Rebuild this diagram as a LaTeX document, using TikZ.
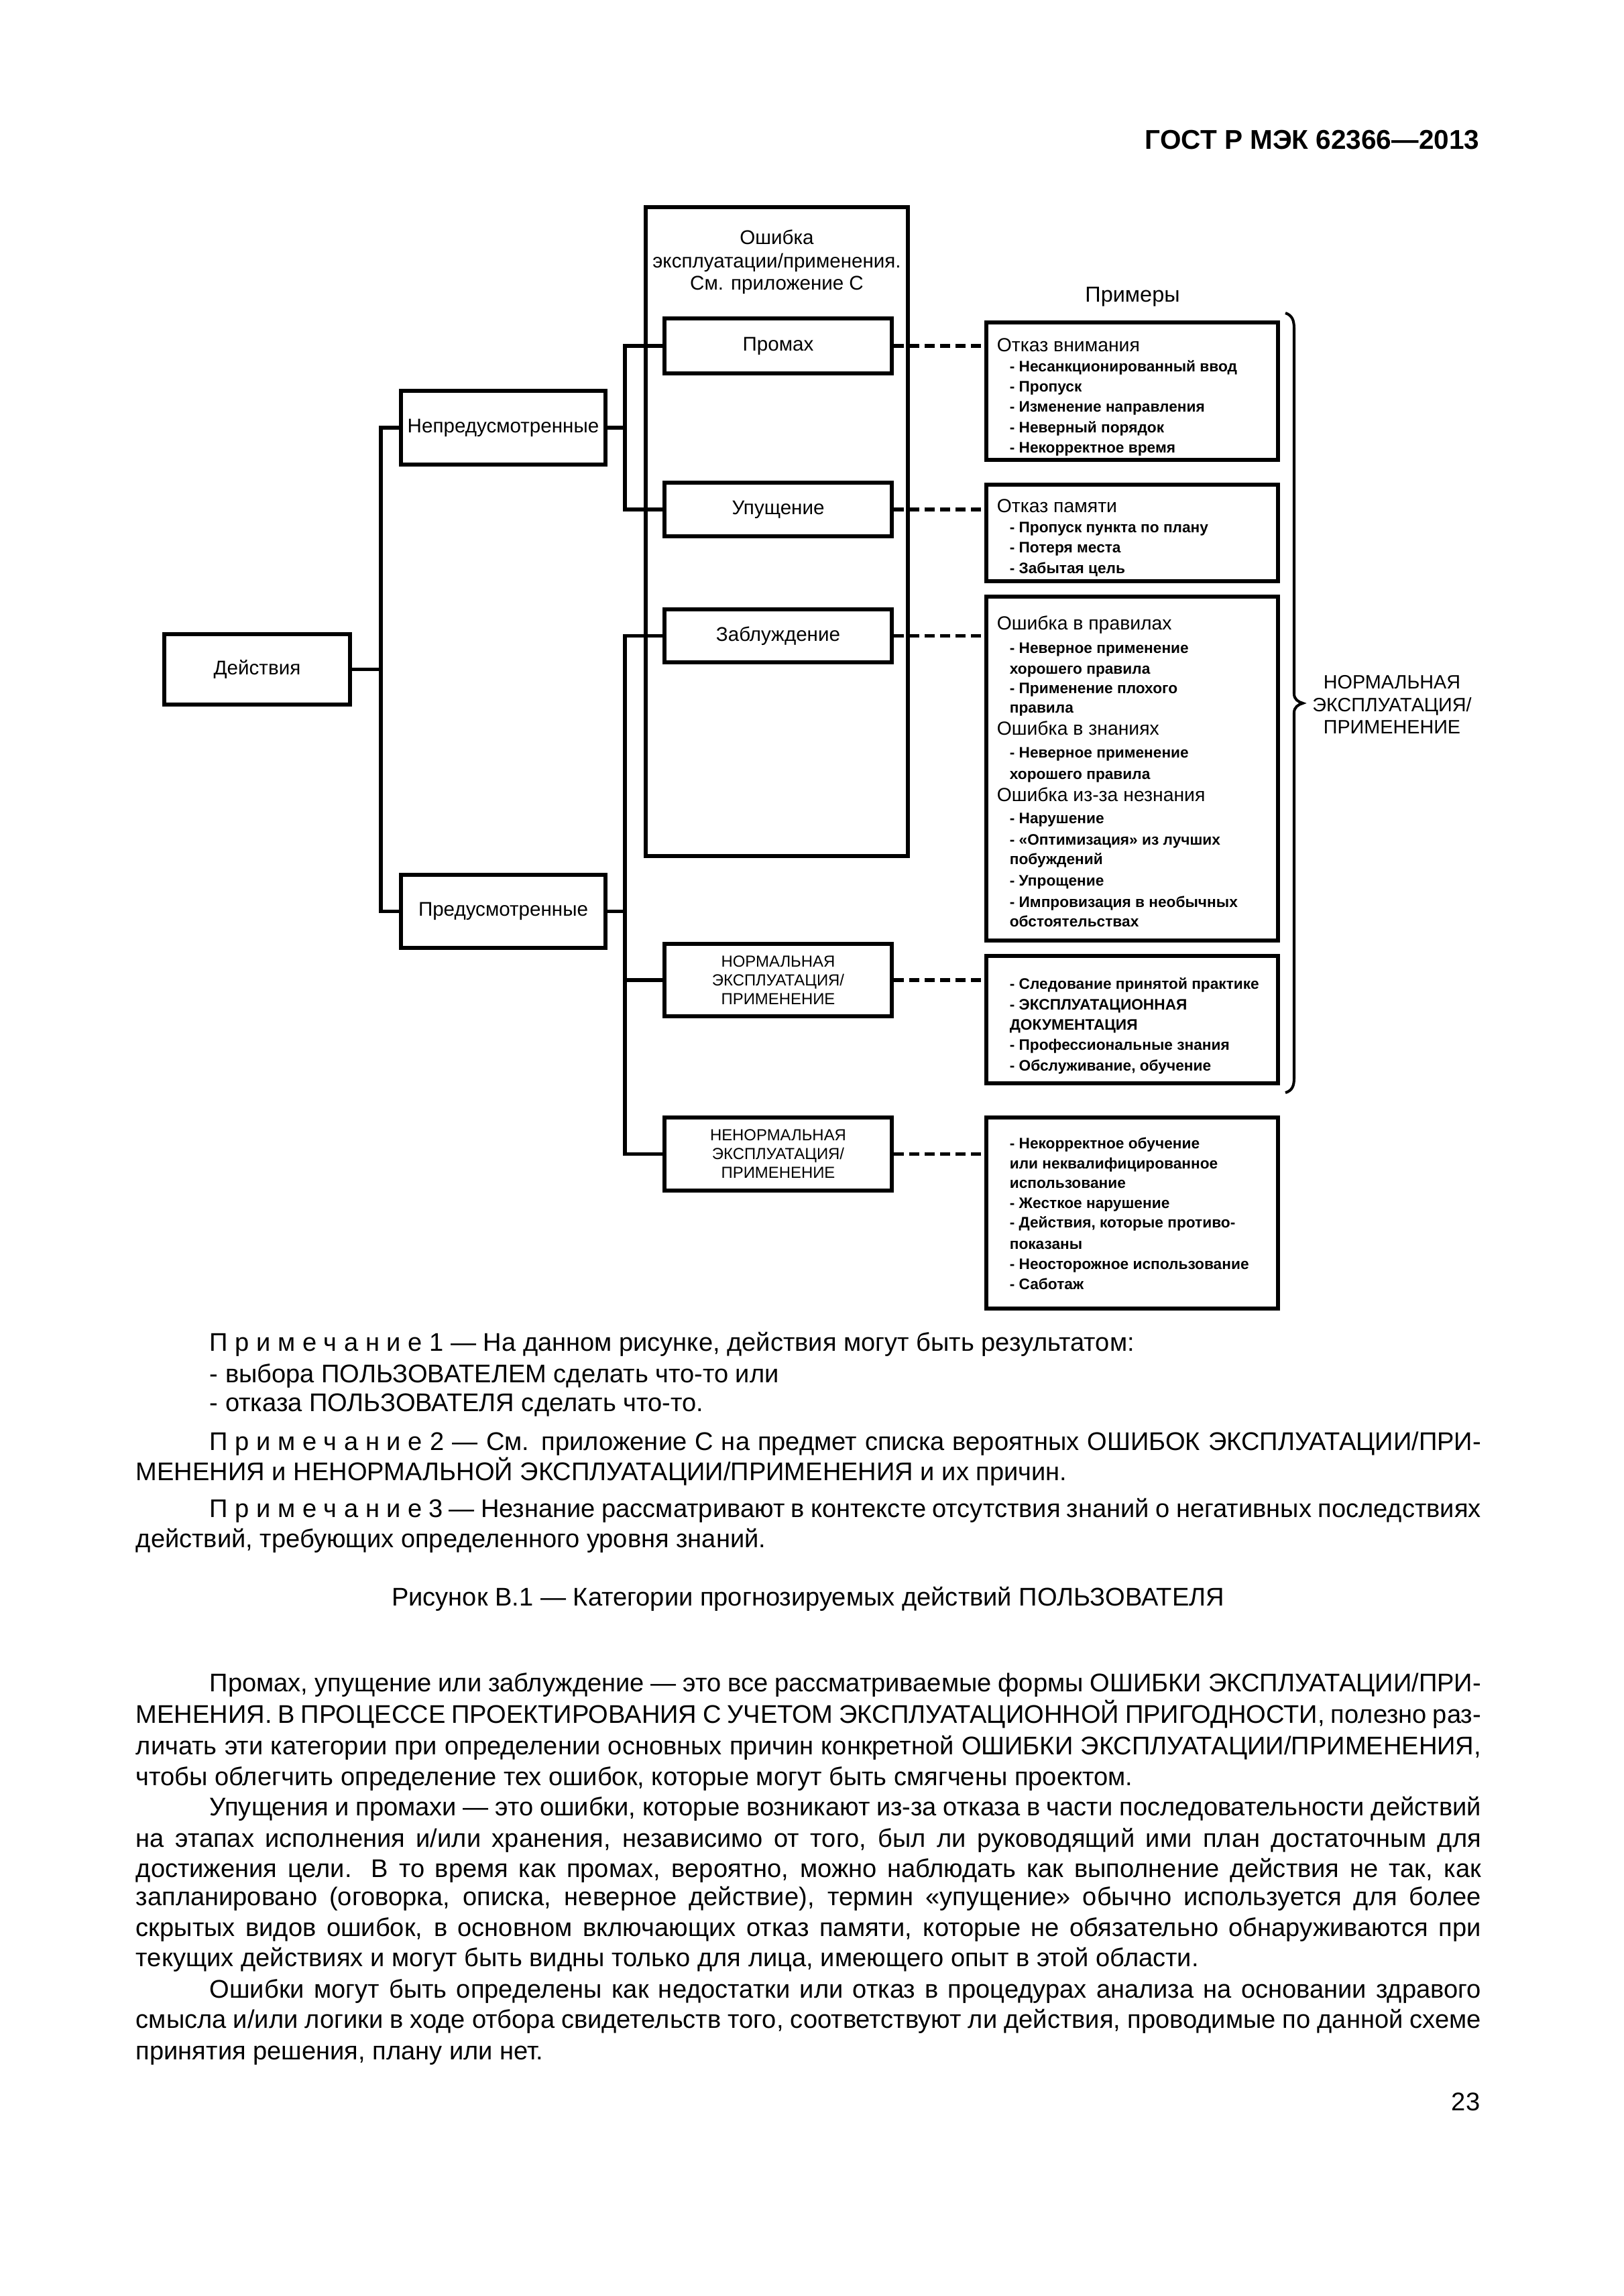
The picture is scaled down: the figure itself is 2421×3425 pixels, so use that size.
\documentclass[tikz,border=0pt]{standalone}
\usepackage{fontspec}
\setmainfont{Liberation Sans}
\newdimen\pxu \pxu=0.08674mm
\begin{document}
\begin{tikzpicture}[x=0.08674mm,y=-0.08674mm,
  box/.style={draw, line width=1.35pt, inner sep=0pt, align=center},
  lbl/.style={font=\fontsize{7.3}{8.4}\selectfont},
  capl/.style={font=\fontsize{5.9}{6.9}\selectfont},
  conn/.style={line width=1.35pt},
  dconn/.style={line width=1.35pt, dash pattern=on 3.7pt off 2pt},
  hd/.style={anchor=mid west, inner sep=0pt, font=\fontsize{7}{8}\selectfont},
  itm/.style={anchor=mid west, inner sep=0pt, font=\fontsize{5.6}{6.5}\selectfont\bfseries},
  ttl/.style={anchor=mid, inner sep=0pt, font=\fontsize{7.3}{8.4}\selectfont},
  body/.style={anchor=mid west, inner sep=0pt, font=\fontsize{9.4}{11}\selectfont},
  exbox/.style={draw, line width=1.35pt, inner sep=0pt, minimum width=435\pxu}
]
\useasboundingbox (0,0) rectangle (2421,3425);

% header
\node[anchor=base east, inner sep=0pt, font=\fontsize{10}{12}\selectfont\bfseries] (hdr) at (2207,222) {ГОСТ Р МЭК 62366—2013};

% left tree
\node[box, lbl, minimum width=277\pxu, minimum height=105\pxu] (deistv) at (383.5,998.5) {Действия};
\node[box, lbl, minimum width=305\pxu, minimum height=110\pxu] (nepred) at (750.5,638) {Непредусмотренные};
\node[box, lbl, minimum width=305\pxu, minimum height=109\pxu] (pred) at (750.5,1359.5) {Предусмотренные};

\node[box, minimum width=391\pxu, minimum height=968\pxu] (bigbox) at (1158.5,793) {};
\node[ttl] (t1) at (1158.5,354) {Ошибка};
\node[ttl] (t2) at (1158.5,389) {эксплуатации/применения.};
\node[ttl] (t3) at (1158.5,422) {См. приложение С};

\node[box, lbl, fill=white, minimum width=339\pxu, minimum height=82\pxu] (promakh) at (1160.5,516) {Промах};
\node[box, lbl, fill=white, minimum width=339\pxu, minimum height=80\pxu] (upush) at (1160.5,760) {Упущение};
\node[box, lbl, fill=white, minimum width=339\pxu, minimum height=79\pxu] (zabl) at (1160.5,948.5) {Заблуждение};
\node[box, capl, minimum width=339\pxu, minimum height=108\pxu] (norm) at (1160.5,1462) {НОРМАЛЬНАЯ\\ЭКСПЛУАТАЦИЯ/\\ПРИМЕНЕНИЕ};
\node[box, capl, minimum width=339\pxu, minimum height=109\pxu] (abnorm) at (1160.5,1721.5) {НЕНОРМАЛЬНАЯ\\ЭКСПЛУАТАЦИЯ/\\ПРИМЕНЕНИЕ};

\coordinate (vlx) at (568,0);
\coordinate (vmx) at (932,0);

\draw[conn] (deistv.east) -- (deistv.east -| vlx);
\draw[conn] (nepred.west) -- (nepred.west -| vlx) -- (pred.west -| vlx) -- (pred.west);
\draw[conn] (nepred.east) -- (nepred.east -| vmx);
\draw[conn] (promakh.west) -- (promakh.west -| vmx) -- (upush.west -| vmx) -- (upush.west);
\draw[conn] (pred.east) -- (pred.east -| vmx);
\draw[conn] (zabl.west) -- (zabl.west -| vmx) -- (abnorm.west -| vmx) -- (abnorm.west);
\draw[conn] (norm.west -| vmx) -- (norm.west);

% examples
\node[anchor=mid, inner sep=0pt, font=\fontsize{8}{9.5}\selectfont] (prim) at (1689,440) {Примеры};

\node[exbox, minimum height=205\pxu] (ex1) at (1688.5,583.5) {};
\node[exbox, minimum height=144\pxu] (ex2) at (1688.5,795) {};
\node[exbox, minimum height=513\pxu] (ex3) at (1688.5,1146.5) {};
\node[exbox, minimum height=190\pxu] (ex4) at (1688.5,1521) {};
\node[exbox, minimum height=285\pxu] (ex5) at (1688.5,1809.5) {};

\draw[dconn] (promakh.east) -- (promakh.east -| ex1.west);
\draw[dconn] (upush.east) -- (upush.east -| ex2.west);
\draw[dconn] (zabl.east) -- (zabl.east -| ex3.west);
\draw[dconn] (norm.east) -- (norm.east -| ex4.west);
\draw[dconn] (abnorm.east) -- (abnorm.east -| ex5.west);

% box 1
\node[hd] (a0) at (1486,514) {Отказ внимания};
\node[itm] (a1) at (1505,544) {- Несанкционированный ввод};
\node[itm] (a2) at (1505,574) {- Пропуск};
\node[itm] (a3) at (1505,604) {- Изменение направления};
\node[itm] (a4) at (1505,635) {- Неверный порядок};
\node[itm] (a5) at (1505,665) {- Некорректное время};
% box 2
\node[hd] (b0) at (1486,754) {Отказ памяти};
\node[itm] (b1) at (1505,784) {- Пропуск пункта по плану};
\node[itm] (b2) at (1505,814) {- Потеря места};
\node[itm] (b3) at (1505,845) {- Забытая цель};
% box 3
\node[hd] (c0) at (1486,929) {Ошибка в правилах};
\node[itm] (c1) at (1505,964) {- Неверное применение};
\node[itm] (c2) at (1505,995) {хорошего правила};
\node[itm] (c3) at (1505,1024) {- Применение плохого};
\node[itm] (c4) at (1505,1053) {правила};
\node[hd] (c5) at (1486,1086) {Ошибка в знаниях};
\node[itm] (c6) at (1505,1120) {- Неверное применение};
\node[itm] (c7) at (1505,1152) {хорошего правила};
\node[hd] (c8) at (1486,1185) {Ошибка из-за незнания};
\node[itm] (c9) at (1505,1218) {- Нарушение};
\node[itm] (c10) at (1505,1250) {- «Оптимизация» из лучших};
\node[itm] (c11) at (1505,1279) {побуждений};
\node[itm] (c12) at (1505,1311) {- Упрощение};
\node[itm] (c13) at (1505,1343) {- Импровизация в необычных};
\node[itm] (c14) at (1505,1372) {обстоятельствах};
% box 4
\node[itm] (d1) at (1505,1465) {- Следование принятой практике};
\node[itm] (d2) at (1505,1496) {- ЭКСПЛУАТАЦИОННАЯ};
\node[itm] (d3) at (1505,1526) {ДОКУМЕНТАЦИЯ};
\node[itm] (d4) at (1505,1556) {- Профессиональные знания};
\node[itm] (d5) at (1505,1587) {- Обслуживание, обучение};
% box 5
\node[itm] (e1) at (1505,1703) {- Некорректное обучение};
\node[itm] (e2) at (1505,1733) {или неквалифицированное};
\node[itm] (e3) at (1505,1762) {использование};
\node[itm] (e4) at (1505,1792) {- Жесткое нарушение};
\node[itm] (e5) at (1505,1821) {- Действия, которые противо-};
\node[itm] (e6) at (1505,1853) {показаны};
\node[itm] (e7) at (1505,1883) {- Неосторожное использование};
\node[itm] (e8) at (1505,1913) {- Саботаж};

% brace
\draw[line width=1pt] (1917,467) .. controls (1927,470) and (1930,478) .. (1930,490) -- (1930,1035) .. controls (1930,1043) and (1936,1047) .. (1943,1049) .. controls (1936,1051) and (1930,1055) .. (1930,1063) -- (1930,1608) .. controls (1930,1620) and (1927,1627) .. (1917,1630);
\node[anchor=center, align=center, inner sep=0pt, font=\fontsize{7.1}{8.2}\selectfont] (brlbl) at (2076,1051) {НОРМАЛЬНАЯ\\ЭКСПЛУАТАЦИЯ/\\ПРИМЕНЕНИЕ};

% notes
\node[body] (n1) at (312,2005) {\mbox{П р и м е ч а н и е} 1 — На данном рисунке, действия могут быть результатом:};
\node[body] (n2) at (312,2052) {- выбора ПОЛЬЗОВАТЕЛЕМ сделать что-то или};
\node[body] (n3) at (312,2095) {- отказа ПОЛЬЗОВАТЕЛЯ сделать что-то.};
\node[body] (n4) at (312,2153) {\makebox[1896\pxu][s]{\mbox{П р и м е ч а н и е} 2 — См. приложение С на предмет списка вероятных ОШИБОК ЭКСПЛУАТАЦИИ/ПРИ-}};
\node[body] (n5) at (202,2198) {МЕНЕНИЯ и НЕНОРМАЛЬНОЙ ЭКСПЛУАТАЦИИ/ПРИМЕНЕНИЯ и их причин.};
\node[body] (n6) at (312,2253) {\makebox[1896\pxu][s]{\mbox{П р и м е ч а н и е} 3 — Незнание рассматривают в контексте отсутствия знаний о негативных последствиях}};
\node[body] (n7) at (202,2298) {действий, требующих определенного уровня знаний.};

\node[anchor=mid, inner sep=0pt, font=\fontsize{9.4}{11}\selectfont] (cap) at (1205,2385) {Рисунок В.1 — Категории прогнозируемых действий ПОЛЬЗОВАТЕЛЯ};

% body text
\node[body] (p1) at (312,2513) {\makebox[1896\pxu][s]{Промах, упущение или заблуждение — это все рассматриваемые формы ОШИБКИ ЭКСПЛУАТАЦИИ/ПРИ-}};
\node[body] (p2) at (202,2560) {\makebox[2006\pxu][s]{МЕНЕНИЯ. В ПРОЦЕССЕ ПРОЕКТИРОВАНИЯ С УЧЕТОМ ЭКСПЛУАТАЦИОННОЙ ПРИГОДНОСТИ, полезно раз-}};
\node[body] (p3) at (202,2607) {\makebox[2006\pxu][s]{личать эти категории при определении основных причин конкретной ОШИБКИ ЭКСПЛУАТАЦИИ/ПРИМЕНЕНИЯ,}};
\node[body] (p4) at (202,2653) {чтобы облегчить определение тех ошибок, которые могут быть смягчены проектом.};
\node[body] (p5) at (312,2698) {\makebox[1896\pxu][s]{Упущения и промахи — это ошибки, которые возникают из-за отказа в части последовательности действий}};
\node[body] (p6) at (202,2745) {\makebox[2006\pxu][s]{на этапах исполнения и/или хранения, независимо от того, был ли руководящий ими план достаточным для}};
\node[body] (p7) at (202,2790) {\makebox[2006\pxu][s]{достижения цели. В то время как промах, вероятно, можно наблюдать как выполнение действия не так, как}};
\node[body] (p8) at (202,2832) {\makebox[2006\pxu][s]{запланировано (оговорка, описка, неверное действие), термин «упущение» обычно используется для более}};
\node[body] (p9) at (202,2878) {\makebox[2006\pxu][s]{скрытых видов ошибок, в основном включающих отказ памяти, которые не обязательно обнаруживаются при}};
\node[body] (p10) at (202,2923) {текущих действиях и могут быть видны только для лица, имеющего опыт в этой области.};
\node[body] (p11) at (312,2970) {\makebox[1896\pxu][s]{Ошибки могут быть определены как недостатки или отказ в процедурах анализа на основании здравого}};
\node[body] (p12) at (202,3015) {\makebox[2006\pxu][s]{смысла и/или логики в ходе отбора свидетельств того, соответствуют ли действия, проводимые по данной схеме}};
\node[body] (p13) at (202,3062) {принятия решения, плану или нет.};

\node[anchor=base east, inner sep=0pt, font=\fontsize{9.4}{11}\selectfont] (pg) at (2208,3148) {23};
\end{tikzpicture}
\end{document}
